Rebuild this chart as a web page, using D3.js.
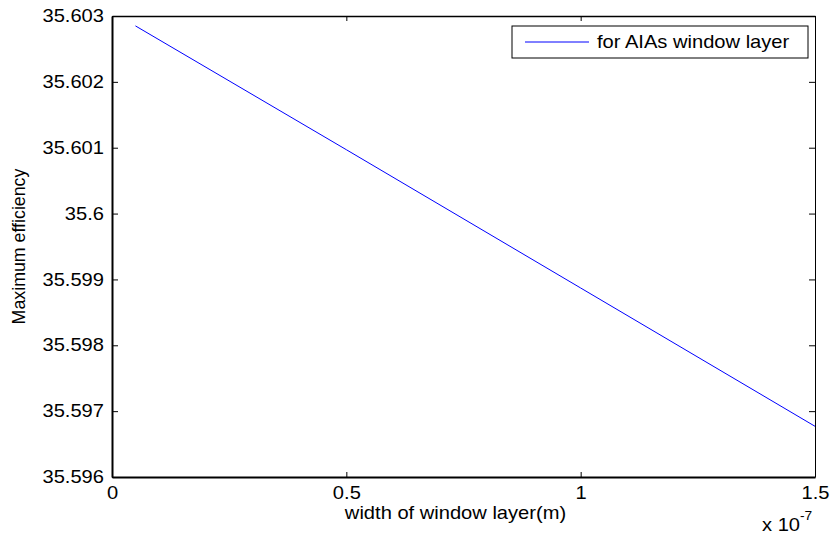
<!DOCTYPE html>
<html>
<head>
<meta charset="utf-8">
<script src="https://cdn.jsdelivr.net/npm/d3@7"></script>
<style>
  body { margin: 0; background: #fff; }
  text { font-family: 'Liberation Sans', Arial, Helvetica, sans-serif; fill: #000; }
</style>
</head>
<body>
<svg id="viz"></svg>
<script>
// data (x in metres)
const layerWidth = [5e-9, 5e-8, 1e-7, 1.5e-7];
const efficiency = [35.60285, 35.60097, 35.59887, 35.59677];

const xTicks = [0, 0.5e-7, 1e-7, 1.5e-7];
const xTickLabels = ['0', '0.5', '1', '1.5'];
const yTicks = [35.596, 35.597, 35.598, 35.599, 35.6, 35.601, 35.602, 35.603];
const yTickLabels = ['35.596', '35.597', '35.598', '35.599', '35.6', '35.601', '35.602', '35.603'];
const seriesName = 'for AIAs window layer';

const margin = { top: 16, right: 16, bottom: 59, left: 112 };
const width = 831 - margin.left - margin.right;
const height = 536 - margin.top - margin.bottom;
const fontSize = 17.5;
const stretch = 'scale(1.15,1)';

const svg = d3.select('#viz').attr('width', 831).attr('height', 536);
const g = svg.append('g').attr('transform', 'translate(' + margin.left + ',' + margin.top + ')');

// SCALES
const x = d3.scaleLinear().domain([0, 1.5e-7]).range([0, width]);
const y = d3.scaleLinear().domain([35.596, 35.603]).range([height, 0]);

// AXES (matlab style: ticks pointing inward, box all round)
const styleAxis = (sel, w) => {
  sel.select('.domain').attr('stroke', '#000').attr('stroke-width', w);
  sel.selectAll('.tick line').attr('stroke', '#000');
  sel.selectAll('text').style('font-size', fontSize + 'px').attr('fill', '#000');
};

g.append('g')
  .attr('transform', 'translate(0,' + height + ')')
  .call(d3.axisBottom(x).tickValues(xTicks).tickFormat((d, i) => xTickLabels[i])
    .tickSizeInner(-5).tickSizeOuter(0).tickPadding(10))
  .call((s) => styleAxis(s, 2))
  .call((s) => s.selectAll('text').attr('transform', stretch));

g.append('g')
  .call(d3.axisTop(x).tickValues(xTicks).tickFormat('').tickSizeInner(-5).tickSizeOuter(0))
  .call((s) => styleAxis(s, 1.5));

g.append('g')
  .call(d3.axisLeft(y).tickValues(yTicks).tickFormat((d, i) => yTickLabels[i])
    .tickSizeInner(-6).tickSizeOuter(0))
  .call((s) => styleAxis(s, 2))
  .call((s) => s.selectAll('text').attr('x', -7).attr('text-anchor', 'end').attr('transform', stretch));

g.append('g')
  .attr('transform', 'translate(' + width + ',0)')
  .call(d3.axisRight(y).tickValues(yTicks).tickFormat('').tickSizeInner(-6).tickSizeOuter(0))
  .call((s) => styleAxis(s, 1));

// LABELS
g.append('text')
  .attr('transform', 'translate(' + (width / 2 - 8) + ',' + (height + 42) + ') ' + stretch)
  .attr('text-anchor', 'middle')
  .style('font-size', fontSize + 'px')
  .text('width of window layer(m)');

g.append('text')
  .attr('transform', 'translate(' + (19 - margin.left) + ',' + (height / 2) + ') rotate(-90)')
  .attr('text-anchor', 'middle')
  .attr('dy', '0.35em')
  .style('font-size', '17.8px')
  .text('Maximum efficiency');

const expo = g.append('text')
  .attr('transform', 'translate(' + (width - 53) + ',' + (height + 54) + ') ' + stretch)
  .style('font-size', fontSize + 'px');
expo.append('tspan').text('x 10');
expo.append('tspan').attr('dy', -11).style('font-size', '12px').text('-7');

// DATA
const line = d3.line().x((d) => x(d[0])).y((d) => y(d[1]));
g.append('path')
  .datum(d3.zip(layerWidth, efficiency))
  .attr('d', line)
  .attr('fill', 'none')
  .attr('stroke', '#0000ff')
  .attr('stroke-width', 1);

// LEGEND
const legend = g.append('g').attr('transform', 'translate(' + (512 - margin.left) + ',' + (26 - margin.top) + ')');
legend.append('rect')
  .attr('width', 296).attr('height', 32)
  .attr('fill', '#fff').attr('stroke', '#000').attr('stroke-width', 1);
legend.append('line')
  .attr('x1', 13).attr('x2', 77).attr('y1', 16).attr('y2', 16)
  .attr('stroke', '#0000ff').attr('stroke-width', 1);
legend.append('text')
  .attr('transform', 'translate(85,22) ' + stretch)
  .style('font-size', fontSize + 'px')
  .text(seriesName);
</script>
</body>
</html>
